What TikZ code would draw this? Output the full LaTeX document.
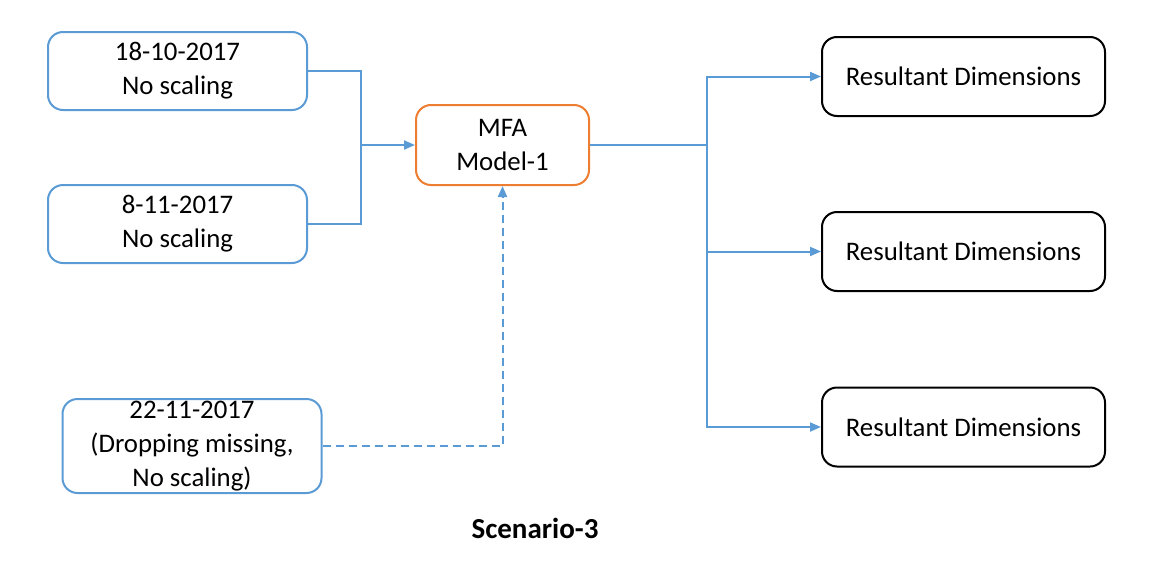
\documentclass[tikz,border=0pt]{standalone}
\usepackage{fontspec}
\setmainfont{Carlito}
\usetikzlibrary{arrows.meta}
\definecolor{linkblue}{HTML}{5B9BD5}
\definecolor{mfaorange}{HTML}{ED7D31}

\begin{document}
\begin{tikzpicture}[x=1pt,y=-1pt,
    inbox/.style={draw=linkblue,line width=2pt,rounded corners=15pt,align=center,minimum width=259pt,minimum height=78pt,inner sep=0pt},
    mfabox/.style={draw=mfaorange,line width=2pt,rounded corners=15pt,align=center,minimum width=173pt,minimum height=80pt,inner sep=0pt},
    outbox/.style={draw=black,line width=2pt,rounded corners=15pt,align=center,minimum width=283pt,minimum height=79pt,inner sep=0pt},
    link/.style={draw=linkblue,line width=2pt},
    arrowlink/.style={link,-{Triangle[length=11pt,width=9pt]}},
    dashlink/.style={arrowlink,dash pattern=on 8pt off 5pt}]
      \useasboundingbox (0,0) rectangle (1158,562);
      \fontsize{26.8}{34}\selectfont
      \node[inbox] (d1) at (177.5, 71) {18-10-2017\\No scaling};
      \node[inbox] (d2) at (177.5,224) {8-11-2017\\No scaling};
      \node[inbox,minimum height=94pt] (d3) at (192,446) {22-11-2017\\(Dropping missing,\\No scaling)};
      \node[mfabox] (mfa) at (502.5,145) {MFA\\Model-1};
      \node[outbox] (res1) at (963.5, 76.5) {Resultant Dimensions};
      \node[outbox] (res2) at (963.5,251.5) {Resultant Dimensions};
      \node[outbox] (res3) at (963.5,427) {Resultant Dimensions};
      \node[font=\bfseries\fontsize{29}{35}\selectfont] (title) at (535,528) {Scenario-3};
      \coordinate (join) at (361,145);
      \coordinate (split) at (707,145);
      \draw[link] (d1.east) -| (join);
      \draw[link] (d2.east) -| (join);
      \draw[arrowlink] (join) -- (mfa.west);
      \draw[dashlink] (d3.east) -| (mfa.south);
      \draw[link] (mfa.east) -- (split);
      \draw[arrowlink] (split) |- (res1.west);
      \draw[arrowlink] (split) |- (res2.west);
      \draw[arrowlink] (split) |- (res3.west);
    \end{tikzpicture}
\end{document}
